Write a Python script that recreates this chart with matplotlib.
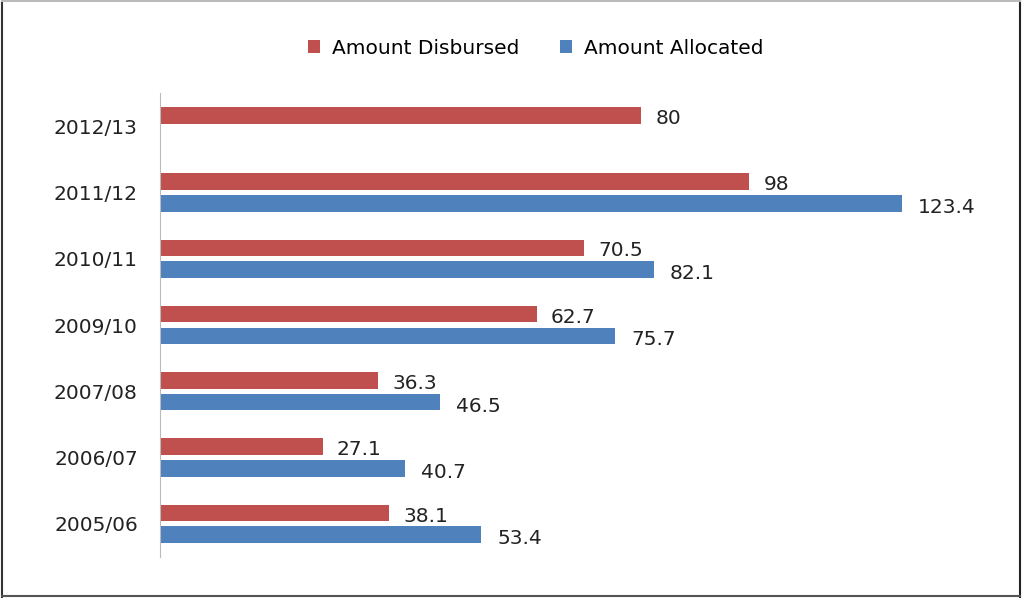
import numpy as np
import matplotlib
matplotlib.use('agg')
import matplotlib.pyplot as plt
from matplotlib.lines import Line2D

years = ['2005/06', '2006/07', '2007/08', '2009/10', '2010/11', '2011/12', '2012/13']
disbursed = [38.1, 27.1, 36.3, 62.7, 70.5, 98, 80]
allocated = [53.4, 40.7, 46.5, 75.7, 82.1, 123.4, None]

red = '#C0504D'
blue = '#4F81BD'

fig = plt.figure(figsize=(10.22, 5.98), dpi=100)
ax = fig.add_axes([160 / 1022, 1 - 557 / 598, (1002 - 160) / 1022, 464 / 598])

y = np.arange(len(years))
h = 0.25
off = 0.163

b1 = ax.barh(y + off, disbursed, height=h, color=red, label='Amount Disbursed')
alloc_y = [yy - off for yy, v in zip(y, allocated) if v is not None]
alloc_v = [v for v in allocated if v is not None]
b2 = ax.barh(alloc_y, alloc_v, height=h, color=blue, label='Amount Allocated')

def fmt(v):
    return ('%g' % v)

fs = 14.5
for yy, v in zip(y + off, disbursed):
    ax.annotate(fmt(v), (v, yy), xytext=(14, -3), textcoords='offset pixels',
                va='center', ha='left', fontsize=fs, color='#222222')
for yy, v in zip(alloc_y, alloc_v):
    ax.annotate(fmt(v), (v, yy), xytext=(16, -4), textcoords='offset pixels',
                va='center', ha='left', fontsize=fs, color='#222222')

ax.set_xlim(0, 140)
ax.set_ylim(-0.5, len(years) - 0.5)
ax.set_yticks(y)
ax.set_yticklabels(years, fontsize=fs, color='#222222')
ax.set_xticks([])
ax.tick_params(axis='y', length=0, pad=16)
for s in ['top', 'right', 'bottom']:
    ax.spines[s].set_visible(False)
ax.spines['left'].set_color('#BBBBBB')

fig.legend(handles=[b1, b2], loc='center', bbox_to_anchor=(536 / 1022, 1 - 48 / 598),
           ncol=2, frameon=False, fontsize=fs, handlelength=0.6, handleheight=0.6,
           handletextpad=0.6, columnspacing=2.0)

# outer frame
W, H = 1022, 598
frame = [((2, 2), (1, 596), '#333333'),
         ((1020, 1020), (1, 596), '#222222'),
         ((2, 1020), (2, 2), '#555555'),
         ((2, 1020), (597, 597), '#BBBBBB')]
for xs, ys, c in frame:
    fig.add_artist(Line2D([xs[0] / W, xs[1] / W], [ys[0] / H, ys[1] / H],
                          transform=fig.transFigure, color=c, linewidth=1.5))

fig.savefig('out.png', dpi=100)
